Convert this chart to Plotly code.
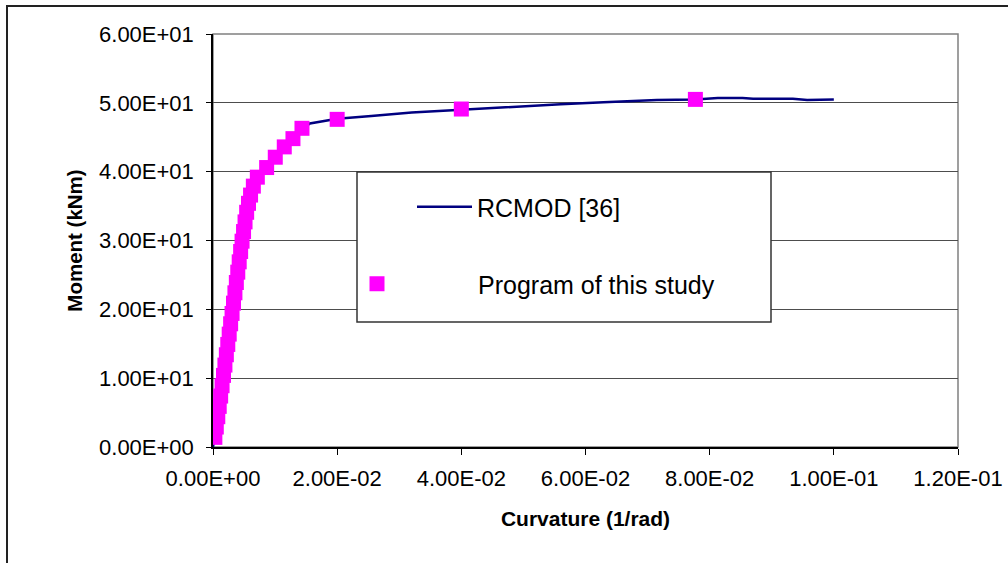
import plotly.graph_objects as go

# ---- data ----
line_curvature = [0, 0.0005, 0.0010, 0.0020, 0.0030, 0.0040, 0.0047, 0.0054, 0.0061, 0.0071,
                  0.0086, 0.0100, 0.0115, 0.0129, 0.0143, 0.0156, 0.0186, 0.0200, 0.0255, 0.0320,
                  0.0400, 0.0485, 0.0560, 0.0629, 0.0715, 0.0777, 0.0813, 0.0853, 0.0870, 0.0934,
                  0.0957, 0.1000]
line_moment = [0, 2.7, 5.9, 12.4, 18.9, 25.4, 29.9, 34.1, 36.8, 39.2,
               40.6, 42.1, 43.6, 44.8, 46.1, 47.0, 47.5, 47.7, 48.1, 48.6,
               49.0, 49.45, 49.8, 50.1, 50.4, 50.5, 50.7, 50.7, 50.6, 50.6,
               50.4, 50.5]

study_curvature = [0.00030, 0.00053, 0.00077, 0.00100, 0.00123, 0.00146, 0.00169, 0.00192,
                   0.00215, 0.00238, 0.00261, 0.00284, 0.00307, 0.00330, 0.00353, 0.00376,
                   0.00399, 0.00422, 0.00445, 0.00468, 0.00492, 0.00516, 0.00542, 0.00572,
                   0.00605, 0.00650, 0.00714, 0.00864, 0.01003, 0.01148, 0.01288, 0.01433,
                   0.0200, 0.0400, 0.0777]
study_moment = [1.4, 2.9, 4.4, 5.9, 7.4, 8.9, 10.4, 11.9,
                13.4, 14.9, 16.4, 17.9, 19.4, 20.9, 22.4, 23.9,
                25.4, 26.9, 28.4, 29.9, 31.3, 32.7, 34.1, 35.4,
                36.6, 37.9, 39.2, 40.6, 42.1, 43.6, 44.8, 46.3,
                47.6, 49.1, 50.5]

x_tick_vals = [0, 0.02, 0.04, 0.06, 0.08, 0.10, 0.12]
x_tick_text = ["0.00E+00", "2.00E-02", "4.00E-02", "6.00E-02", "8.00E-02", "1.00E-01", "1.20E-01"]
y_tick_vals = [0, 10, 20, 30, 40, 50, 60]
y_tick_text = ["0.00E+00", "1.00E+01", "2.00E+01", "3.00E+01", "4.00E+01", "5.00E+01", "6.00E+01"]

FONT = "Arial, Liberation Sans, sans-serif"

fig = go.Figure()
fig.add_trace(go.Scatter(
    x=line_curvature, y=line_moment, mode="lines", name="RCMOD [36]",
    line=dict(color="#000080", width=2.5), legend="legend"))
fig.add_trace(go.Scatter(
    x=study_curvature, y=study_moment, mode="markers", name="Program of this study",
    marker=dict(symbol="square", size=15, color="#FF00FF", line=dict(width=0)),
    legend="legend2"))

W, H = 1008, 563
L, R, T, B = 213, 958, 34, 447

def px(xp):
    return (xp - L) / (R - L)

def py(yp):
    return (B - yp) / (B - T)

legend_font = dict(family=FONT, size=25, color="black")

fig.update_layout(
    width=W, height=H,
    margin=dict(l=L, r=W - R, t=T, b=H - B, pad=0, autoexpand=False),
    paper_bgcolor="white", plot_bgcolor="white",
    font=dict(family=FONT, color="black", size=22),
    showlegend=True,
    legend=dict(
        x=px(412), y=py(184), xanchor="left", yanchor="top",
        bgcolor="rgba(0,0,0,0)", borderwidth=0, font=legend_font, itemwidth=55,
    ),
    legend2=dict(
        x=px(276), y=py(261), xanchor="left", yanchor="top",
        bgcolor="rgba(0,0,0,0)", borderwidth=0, font=legend_font, itemwidth=192,
    ),
    xaxis=dict(
        range=[0, 0.12], tickvals=x_tick_vals, ticktext=x_tick_text,
        showgrid=False, zeroline=False, automargin=False,
        showline=True, linecolor="black", linewidth=1.5,
        ticks="outside", ticklen=6, tickcolor="black", tickwidth=1,
        tickfont=dict(family=FONT, size=22, color="black"),
        ticklabelstandoff=5,
        title=dict(text="<b>Curvature (1/rad)</b>", font=dict(family=FONT, size=21, color="black"),
                   standoff=21),
    ),
    yaxis=dict(
        range=[0, 60], tickvals=y_tick_vals, ticktext=y_tick_text,
        showgrid=True, gridcolor="#4d4d4d", gridwidth=1, zeroline=False, automargin=False,
        showline=True, linecolor="black", linewidth=1.5,
        ticks="outside", ticklen=5, tickcolor="black", tickwidth=1,
        tickfont=dict(family=FONT, size=22, color="black"),
        ticklabelstandoff=8,
        title=dict(text="<b>Moment (kNm)</b>", font=dict(family=FONT, size=20.5, color="black"),
                   standoff=11),
    ),
    shapes=[
        # plot area frame (grey right/top)
        dict(type="rect", xref="paper", yref="paper", x0=0, x1=1, y0=0, y1=1,
             line=dict(color="#808080", width=1.5), layer="below"),
        # outer chart frame
        dict(type="rect", xref="paper", yref="paper", x0=px(7), x1=px(1060),
             y0=py(620), y1=py(6), line=dict(color="#222222", width=2), layer="below"),
        # legend box
        dict(type="rect", xref="paper", yref="paper", x0=px(357), x1=px(771),
             y0=py(322), y1=py(172), line=dict(color="#333333", width=1.5),
             fillcolor="white", layer="above"),
    ],
)

fig.write_html(
    "out.html",
    config={"displayModeBar": False},
    post_script="document.body.style.margin='0';document.body.style.padding='0';",
)
